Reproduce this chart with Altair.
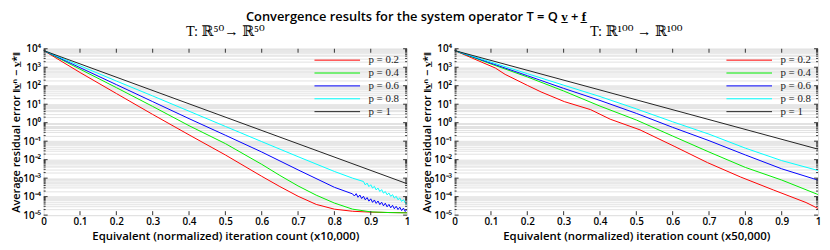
import altair as alt
import pandas as pd

# ---------------- data ----------------
P_LABELS = ["p = 0.2", "p = 0.4", "p = 0.6", "p = 0.8", "p = 1"]
P_COLORS = ["#ff0000", "#00ee00", "#0000ff", "#00ffff", "#222222"]

X_TICKS = [0, 0.1, 0.2, 0.3, 0.4, 0.5, 0.6, 0.7, 0.8, 0.9, 1]

# Left panel  T: R^50 -> R^50   (x10,000)
L_RED_X = [0, 0.1, 0.2, 0.3, 0.4, 0.5, 0.6, 0.65, 0.7, 0.75, 0.8, 0.85, 0.9, 0.95, 1.0]
L_RED_Y = [8e3, 5.2e2, 38, 2.8, 0.22, 1.8e-2, 1.26e-3, 3.5e-4, 1.05e-4, 3.8e-5,
           2.1e-5, 1.62e-5, 1.45e-5, 1.38e-5, 1.35e-5]
L_GREEN_X = [0, 0.1, 0.2, 0.3, 0.4, 0.5, 0.6, 0.65, 0.7, 0.75, 0.8, 0.85, 0.9, 0.95, 1.0]
L_GREEN_Y = [8e3, 7.9e2, 79, 7.6, 0.69, 7.4e-2, 5.6e-3, 1.4e-3, 3.8e-4, 1.2e-4,
             4.5e-5, 2.1e-5, 1.5e-5, 1.38e-5, 1.32e-5]
L_BLUE_X = [0, 0.1, 0.2, 0.3, 0.4, 0.5, 0.6, 0.7, 0.8,
            0.85, 0.855, 0.86, 0.865, 0.87, 0.875, 0.88, 0.885, 0.89, 0.895,
            0.9, 0.905, 0.91, 0.915, 0.92, 0.925, 0.93, 0.935, 0.94, 0.945,
            0.95, 0.955, 0.96, 0.965, 0.97, 0.975, 0.98, 0.985, 0.99, 0.995, 1.0]
L_BLUE_Y = [8e3, 9.5e2, 1.15e2, 13.8, 1.66, 0.21, 2.6e-2, 2.8e-3, 3.2e-4,
            1.41e-4, 1.08e-4, 1.45e-4, 9.2e-5, 1.23e-4, 7.9e-5, 1.05e-4, 6.7e-5, 8.9e-5, 5.7e-5,
            7.6e-5, 4.9e-5, 6.6e-5, 4.3e-5, 5.8e-5, 3.7e-5, 5.0e-5, 3.2e-5, 4.4e-5, 2.8e-5,
            3.8e-5, 2.5e-5, 3.4e-5, 2.2e-5, 3.0e-5, 2.0e-5, 2.7e-5, 1.76e-5, 2.4e-5, 1.57e-5, 2.1e-5]
L_CYAN_X = [0, 0.1, 0.2, 0.3, 0.4, 0.5, 0.6, 0.7, 0.8, 0.85,
            0.88, 0.885, 0.89, 0.895, 0.9, 0.905, 0.91, 0.915, 0.92, 0.925,
            0.93, 0.935, 0.94, 0.945, 0.95, 0.955, 0.96, 0.965, 0.97, 0.975,
            0.98, 0.985, 0.99, 0.995, 1.0]
L_CYAN_Y = [8e3, 1.2e3, 1.8e2, 28, 4.2, 0.63, 9.5e-2, 1.45e-2, 2.3e-3, 1.0e-3,
            6.6e-4, 4.3e-4, 5.4e-4, 3.5e-4, 4.4e-4, 2.9e-4, 3.6e-4, 2.3e-4, 2.9e-4, 1.9e-4,
            2.4e-4, 1.55e-4, 1.9e-4, 1.26e-4, 1.57e-4, 1.03e-4, 1.28e-4, 8.4e-5, 1.04e-4, 6.8e-5,
            8.5e-5, 5.5e-5, 6.9e-5, 4.5e-5, 4.0e-5]
L_BLACK_X = [0, 1.0]
L_BLACK_Y = [8e3, 5e-4]

# Right panel  T: R^100 -> R^100   (x50,000)
R_RED_X = [0, 0.112, 0.139, 0.2, 0.238, 0.302, 0.374, 0.428, 0.51, 0.606, 0.696,
           0.787, 0.877, 0.967, 1.0]
R_RED_Y = [8e3, 9.1e2, 4.1e2, 1.05e2, 46, 13.8, 5.1, 1.55, 0.41, 5.1e-2, 6.9e-3,
           1.15e-3, 2.3e-4, 4.8e-5, 2.3e-5]
R_GREEN_X = [0, 0.1, 0.2, 0.3, 0.4, 0.5, 0.6, 0.7, 0.8, 0.9, 1.0]
R_GREEN_Y = [8e3, 1.5e3, 3.0e2, 52, 7.9, 1.4, 0.19, 2.6e-2, 3.8e-3, 7.9e-4, 1.3e-4]
R_BLUE_X = [0, 0.1, 0.2, 0.3, 0.4, 0.5, 0.6, 0.7, 0.8, 0.9, 1.0]
R_BLUE_Y = [8e3, 1.66e3, 3.5e2, 72, 16, 3.2, 0.56, 0.107, 1.8e-2, 3.2e-3, 7.8e-4]
R_CYAN_X = [0, 0.1, 0.2, 0.3, 0.4, 0.5, 0.6, 0.7, 0.8, 0.9, 1.0]
R_CYAN_Y = [8e3, 1.9e3, 4.5e2, 1.07e2, 26, 5.6, 1.12, 0.24, 4.2e-2, 8.9e-3, 2.6e-3]
R_BLACK_X = [0, 1.0]
R_BLACK_Y = [8e3, 3.7e-2]

# ---------------- helpers ----------------
SANS = "Open Sans"
SERIF = "Liberation Serif, DejaVu Serif"
W, H = 367, 168

grid_vals = [m * 10.0 ** k for k in range(-5, 4) for m in range(1, 10)] + [1e4]
decades = [10.0 ** k for k in range(-5, 5)]
minors = [v for v in grid_vals if v not in decades]
inner_x_ticks = X_TICKS[1:-1]


def frame(series):
    rows = []
    for label, xs, ys in series:
        for xv, yv in zip(xs, ys):
            rows.append({"x": xv, "err": yv, "p": label})
    return pd.DataFrame(rows)


sup_expr = (
    "abs(log(datum.value)/LN10 - round(log(datum.value)/LN10)) < 0.001 ? "
    "'10' + (datum.value < 1 ? '\u207b' : '') + "
    "substring('\u2070\u00b9\u00b2\u00b3\u2074\u2075\u2076\u2077\u2078\u2079', "
    "abs(round(log(datum.value)/LN10)), abs(round(log(datum.value)/LN10)) + 1) : ''"
)

yscale = alt.Scale(type="log", domain=[1e-5, 1e4], nice=False)
xscale = alt.Scale(domain=[0, 1], nice=False, zero=False)

YTITLE = "Average residual error \u2016v\u0332\u207f \u2212 v\u0332*\u2016"

# a horizontal line symbol, 46 px long for symbolSize 36 (radius 3)
LEG_PATH = "M-7.67,0H7.67"


def x_axis(xtitle):
    return alt.Axis(values=X_TICKS, format="~g", title=xtitle, grid=False,
                    ticks=False, domain=False, labelFont=SANS, labelFontSize=10,
                    labelFontWeight=600, labelColor="#000", labelPadding=1,
                    labelOverlap=False, labelBound=False, labelFlush=False,
                    titleFont=SANS, titleFontSize=11.5, titleFontWeight=600,
                    titleColor="#000", titlePadding=5)


def y_axis():
    return alt.Axis(values=grid_vals, labelExpr=sup_expr, labelOverlap=False,
                    title=YTITLE, grid=True, gridColor="#e2e2e2", gridWidth=1,
                    ticks=False, domain=False, labelFont=SANS, labelFontSize=10,
                    labelFontWeight=600, labelColor="#000", labelPadding=3,
                    minExtent=19, maxExtent=19,
                    titleFont=SANS, titleFontSize=11, titleFontWeight=600,
                    titleColor="#000", titlePadding=3)


def panel(df, title, xtitle, legend_x):
    xa = x_axis(xtitle)
    ya = y_axis()
    lines = alt.Chart(df).mark_line(strokeWidth=1, clip=True).encode(
        x=alt.X("x:Q", scale=xscale, axis=xa),
        y=alt.Y("err:Q", scale=yscale, axis=ya),
        color=alt.Color("p:N", scale=alt.Scale(domain=P_LABELS, range=P_COLORS),
                        sort=P_LABELS,
                        legend=alt.Legend(orient="none", legendX=legend_x, legendY=6,
                                          title=None, symbolType=LEG_PATH, symbolSize=36,
                                          symbolStrokeWidth=1, labelFont=SERIF,
                                          labelFontSize=11, labelColor="#222",
                                          labelOffset=26, rowPadding=1, padding=0)),
    )
    xt = pd.DataFrame({"x": inner_x_ticks})
    tick_bottom = alt.Chart(xt).mark_rule(color="#333", strokeWidth=1).encode(
        x=alt.X("x:Q", scale=xscale, axis=xa), y=alt.value(H), y2=alt.value(H - 4))
    tick_top = alt.Chart(xt).mark_rule(color="#333", strokeWidth=1).encode(
        x=alt.X("x:Q", scale=xscale, axis=xa), y=alt.value(0), y2=alt.value(4))
    yd = pd.DataFrame({"err": decades})
    ym = pd.DataFrame({"err": minors})
    ticks_y = []
    for d, ln in ((yd, 4), (ym, 2)):
        ticks_y.append(alt.Chart(d).mark_rule(color="#333", strokeWidth=1).encode(
            y=alt.Y("err:Q", scale=yscale, axis=ya), x=alt.value(0), x2=alt.value(ln)))
        ticks_y.append(alt.Chart(d).mark_rule(color="#333", strokeWidth=1).encode(
            y=alt.Y("err:Q", scale=yscale, axis=ya), x=alt.value(W), x2=alt.value(W - ln)))
    return alt.layer(lines, tick_bottom, tick_top, *ticks_y).properties(
        width=W, height=H,
        title=alt.TitleParams(title, font=SERIF, fontSize=14.5, fontWeight="normal",
                              color="#000", offset=4))


left_df = frame([
    (P_LABELS[0], L_RED_X, L_RED_Y),
    (P_LABELS[1], L_GREEN_X, L_GREEN_Y),
    (P_LABELS[2], L_BLUE_X, L_BLUE_Y),
    (P_LABELS[3], L_CYAN_X, L_CYAN_Y),
    (P_LABELS[4], L_BLACK_X, L_BLACK_Y),
])
right_df = frame([
    (P_LABELS[0], R_RED_X, R_RED_Y),
    (P_LABELS[1], R_GREEN_X, R_GREEN_Y),
    (P_LABELS[2], R_BLUE_X, R_BLUE_Y),
    (P_LABELS[3], R_CYAN_X, R_CYAN_Y),
    (P_LABELS[4], R_BLACK_X, R_BLACK_Y),
])

left = panel(left_df, "T: \u211d\u2075\u2070\u2192 \u211d\u2075\u2070",
             "Equivalent (normalized) iteration count (x10,000)", 291)
right = panel(right_df, "T: \u211d\u00b9\u2070\u2070 \u2192 \u211d\u00b9\u2070\u2070",
              "Equivalent (normalized) iteration count (x50,000)", 292)

chart = alt.hconcat(left, right, spacing=10).resolve_scale(color="independent").properties(
    padding={"left": 2, "top": 2, "right": 0, "bottom": 0},
    title=alt.TitleParams("Convergence results for the system operator T = Q v\u0332 + f\u0332",
                          font=SANS, fontSize=13, fontWeight=600, color="#000",
                          anchor="middle", offset=0),
).configure_view(stroke="#333", strokeWidth=1).configure(background="white")

chart.save("out.html", embed_options={"renderer": "svg", "actions": False})
